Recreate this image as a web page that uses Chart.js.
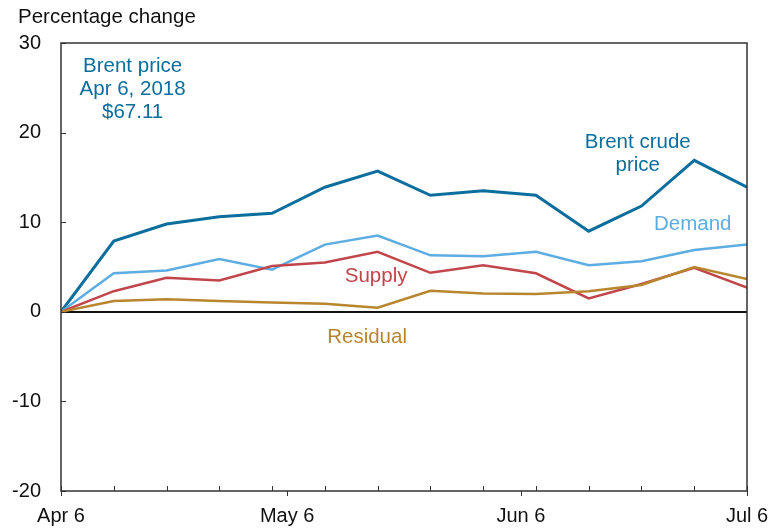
<!DOCTYPE html>
<html>
<head>
<meta charset="utf-8">
<script src="https://cdn.jsdelivr.net/npm/chart.js@4"></script>
<style>
  html, body { margin: 0; padding: 0; background: #ffffff; }
  #wrap { width: 770px; height: 528px; }
</style>
</head>
<body>
<div id="wrap"><canvas id="chart" width="770" height="528"></canvas></div>
<script>
    // ---------------- Data ---------------------------------------------------
    // days since Apr 6, 2018 (weekly observations)
    const days     = [ 0, 7, 14, 21, 28, 35, 42, 49, 56, 63, 70, 77, 84, 91 ] ;
    const brent    = [ 0, 7.9, 9.8, 10.6, 11.0, 13.9, 15.7, 13.0, 13.5, 13.0, 9.0, 11.8, 16.9, 13.9 ] ;
    const demand   = [ 0, 4.3, 4.6, 5.9, 4.7, 7.5, 8.5, 6.3, 6.2, 6.7, 5.2, 5.65, 6.9, 7.5 ] ;
    const supply   = [ 0, 2.3, 3.8, 3.5, 5.1, 5.5, 6.7, 4.35, 5.2, 4.3, 1.5, 3.1, 4.9, 2.7 ] ;
    const residual = [ 0, 1.2, 1.4, 1.2, 1.05, 0.9, 0.45, 2.35, 2.05, 2.0, 2.3, 3.0, 5.0, 3.65 ] ;

    const xTickLabels = { 0 : 'Apr 6', 30 : 'May 6', 61 : 'Jun 6', 91 : 'Jul 6' } ;
    const yTicks = [ -20, -10, 0, 10, 20, 30 ] ;

    // ---------------- Styles -------------------------------------------------
    const C_BRENT    = '#0b6e9c' ;
    const C_DEMAND   = '#5eade2' ;
    const C_SUPPLY   = '#c0464b' ;
    const C_RESIDUAL = '#b8862e' ;
    const FONT = 'Liberation Sans, Arial, sans-serif' ;

    const textLabels = [
        { lines : [ 'Brent price', 'Apr 6, 2018', '$67.11' ], x : 9.5,  y : 27.35, color : C_BRENT },
        { lines : [ 'Brent crude', 'price' ],                  x : 76.5, y : 18.9,  color : C_BRENT },
        { lines : [ 'Demand' ],                                 x : 83.8, y : 9.8,   color : C_DEMAND },
        { lines : [ 'Supply' ],                                 x : 41.8, y : 4.0,   color : C_SUPPLY },
        { lines : [ 'Residual' ],                               x : 40.6, y : -2.8,  color : C_RESIDUAL },
    ] ;

    function toPoints( values ) {
        return values.map( function( v, i ) { return { x : days[i], y : v } ; } ) ;
    }

    function lineDataset( name, values, color, width ) {
        return {
            label            : name,
            data             : toPoints( values ),
            borderColor      : color,
            backgroundColor  : color,
            borderWidth      : width,
            tension          : 0,
            pointRadius      : 0,
            borderJoinStyle  : 'miter',
        } ;
    }

    // ---------------- Plugins ------------------------------------------------
    const framePlugin = {
        id : 'frame',
        afterDraw : function( chart ) {
            const ctx = chart.ctx ;
            const a = chart.chartArea ;
            const xs = chart.scales.x ;
            const ys = chart.scales.y ;
            ctx.save() ;
            ctx.strokeStyle = '#333333' ;
            ctx.lineWidth = 1.5 ;
            ctx.strokeRect( a.left, a.top, a.right - a.left, a.bottom - a.top ) ;

            // weekly ticks, inward
            ctx.lineWidth = 1 ;
            ctx.beginPath() ;
            days.forEach( function( d ) {
                const px = Math.round( xs.getPixelForValue( d ) ) + 0.5 ;
                ctx.moveTo( px, a.bottom ) ;
                ctx.lineTo( px, a.bottom - 5 ) ;
            } ) ;
            // labelled ticks, outward
            Object.keys( xTickLabels ).forEach( function( d ) {
                const px = Math.round( xs.getPixelForValue( +d ) ) + 0.5 ;
                ctx.moveTo( px, a.bottom ) ;
                ctx.lineTo( px, a.bottom + 5 ) ;
            } ) ;
            // y ticks, inward
            yTicks.forEach( function( v ) {
                const py = Math.round( ys.getPixelForValue( v ) ) + 0.5 ;
                ctx.moveTo( a.left, py ) ;
                ctx.lineTo( a.left + 5, py ) ;
            } ) ;
            ctx.stroke() ;

            ctx.fillStyle = '#111111' ;
            ctx.font = '20px ' + FONT ;

            // x tick labels
            ctx.textAlign = 'center' ;
            ctx.textBaseline = 'middle' ;
            Object.keys( xTickLabels ).forEach( function( d ) {
                ctx.fillText( xTickLabels[ d ], xs.getPixelForValue( +d ), a.bottom + 25 ) ;
            } ) ;

            // axis title
            ctx.font = '20.5px ' + FONT ;
            ctx.textAlign = 'left' ;
            ctx.textBaseline = 'alphabetic' ;
            ctx.fillText( 'Percentage change', 18, 23 ) ;

            // series labels
            ctx.textAlign = 'center' ;
            ctx.textBaseline = 'middle' ;
            textLabels.forEach( function( lbl ) {
                const px = xs.getPixelForValue( lbl.x ) ;
                const py = ys.getPixelForValue( lbl.y ) ;
                ctx.fillStyle = lbl.color ;
                lbl.lines.forEach( function( line, i ) {
                    ctx.fillText( line, px, py + i * 23 ) ;
                } ) ;
            } ) ;
            ctx.restore() ;
        }
    } ;

    // ---------------- Chart --------------------------------------------------
    const canvas = document.getElementById( 'chart' ) ;
    const chart = new Chart( canvas, {
        type : 'line',
        data : {
            datasets : [
                lineDataset( 'Residual', residual, C_RESIDUAL, 2.5 ),
                lineDataset( 'Supply',   supply,   C_SUPPLY,   2.5 ),
                lineDataset( 'Demand',   demand,   C_DEMAND,   2.5 ),
                lineDataset( 'Brent',    brent,    C_BRENT,    3 ),
            ]
        },
        options : {
            responsive : false,
            animation : false,
            layout : { padding : { left : 11, right : 23, top : 43, bottom : 37 } },
            plugins : {
                legend : { display : false },
                tooltip : { enabled : false },
            },
            scales : {
                x : {
                    type : 'linear',
                    min : 0,
                    max : 91,
                    ticks : { display : false },
                    grid : { display : false, drawTicks : false },
                    border : { display : false },
                },
                y : {
                    min : -20,
                    max : 30,
                    afterBuildTicks : function( scale ) {
                        scale.ticks = yTicks.map( function( v ) { return { value : v } ; } ) ;
                    },
                    afterFit : function( scale ) {
                        scale.width = 50 ;
                    },
                    ticks : {
                        padding : 20,
                        color : '#111111',
                        font : { family : FONT, size : 20 },
                    },
                    grid : {
                        drawTicks : false,
                        lineWidth : 2,
                        color : function( ctx ) {
                            return ( ctx.tick && ctx.tick.value === 0 ) ? '#111111' : 'rgba(0,0,0,0)' ;
                        }
                    },
                    border : { display : false },
                }
            }
        },
        plugins : [ framePlugin ]
    } ) ;
</script>
</body>
</html>
